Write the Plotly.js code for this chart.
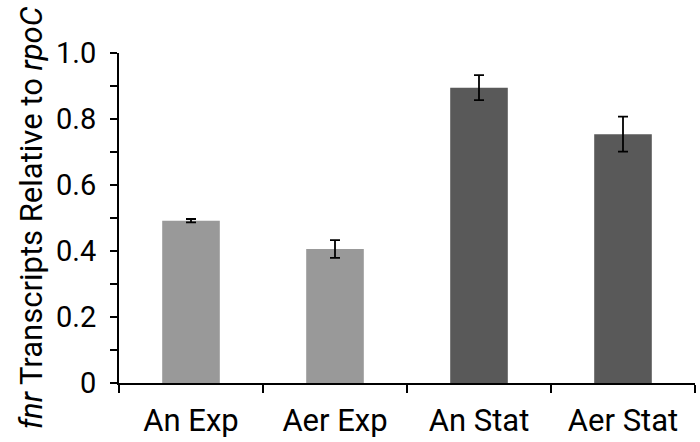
<!DOCTYPE html>
<html lang="en">
<head>
  <meta charset="UTF-8">
  <title>fnr transcripts</title>
  <script src="https://cdn.plot.ly/plotly-3.0.1.min.js"></script>
  <style>
    body { margin: 0; background: white; }
    #chart { width: 700px; height: 442px; }
  </style>
</head>
<body>
  <div id="chart"></div>
  <script>
    // values
    const conditions = ["An Exp", "Aer Exp", "An Stat", "Aer Stat"];
    const ratio = [0.492, 0.406, 0.895, 0.754];
    const errors = [0.005, 0.027, 0.038, 0.053];
    const barColors = ["#999999", "#999999", "#595959", "#595959"];
    const yTickVals = [0, 0.2, 0.4, 0.6, 0.8, 1.0];
    const yTickText = ["0", "0.2", "0.4", "0.6", "0.8", "1.0"];

    const font = "Roboto, sans-serif";

    Plotly.newPlot("chart", [{
      type: "bar",
      x: conditions,
      y: ratio,
      width: 0.4,
      marker: { color: barColors },
      error_y: { type: "data", array: errors, color: "black", thickness: 1.8, width: 5 }
    }], {
      width: 700,
      height: 442,
      margin: { l: 119, r: 5, t: 53, b: 58.5 },
      paper_bgcolor: "white",
      plot_bgcolor: "white",
      showlegend: false,
      font: { family: font, color: "black", size: 29 },
      xaxis: {
        showline: true, linecolor: "black", linewidth: 2,
        ticks: "outside", tickson: "boundaries", ticklen: 8, tickwidth: 2, tickcolor: "black",
        ticklabelstandoff: 9,
        tickfont: { size: 31 },
        showgrid: false, zeroline: false
      },
      yaxis: {
        range: [0, 1.0],
        showline: true, linecolor: "black", linewidth: 2,
        tickvals: yTickVals, ticktext: yTickText,
        ticks: "outside", ticklen: 7, tickwidth: 2, tickcolor: "black",
        ticklabelstandoff: 8,
        minor: { dtick: 0.1, ticks: "outside", ticklen: 7, tickwidth: 2, tickcolor: "black", showgrid: false },
        tickfont: { size: 29 },
        showgrid: false, zeroline: false,
        title: { text: "<i>fnr</i> Transcripts Relative to <i>rpoC</i>", font: { size: 31 }, standoff: 4 }
      }
    }, { displayModeBar: false });
  </script>
</body>
</html>
